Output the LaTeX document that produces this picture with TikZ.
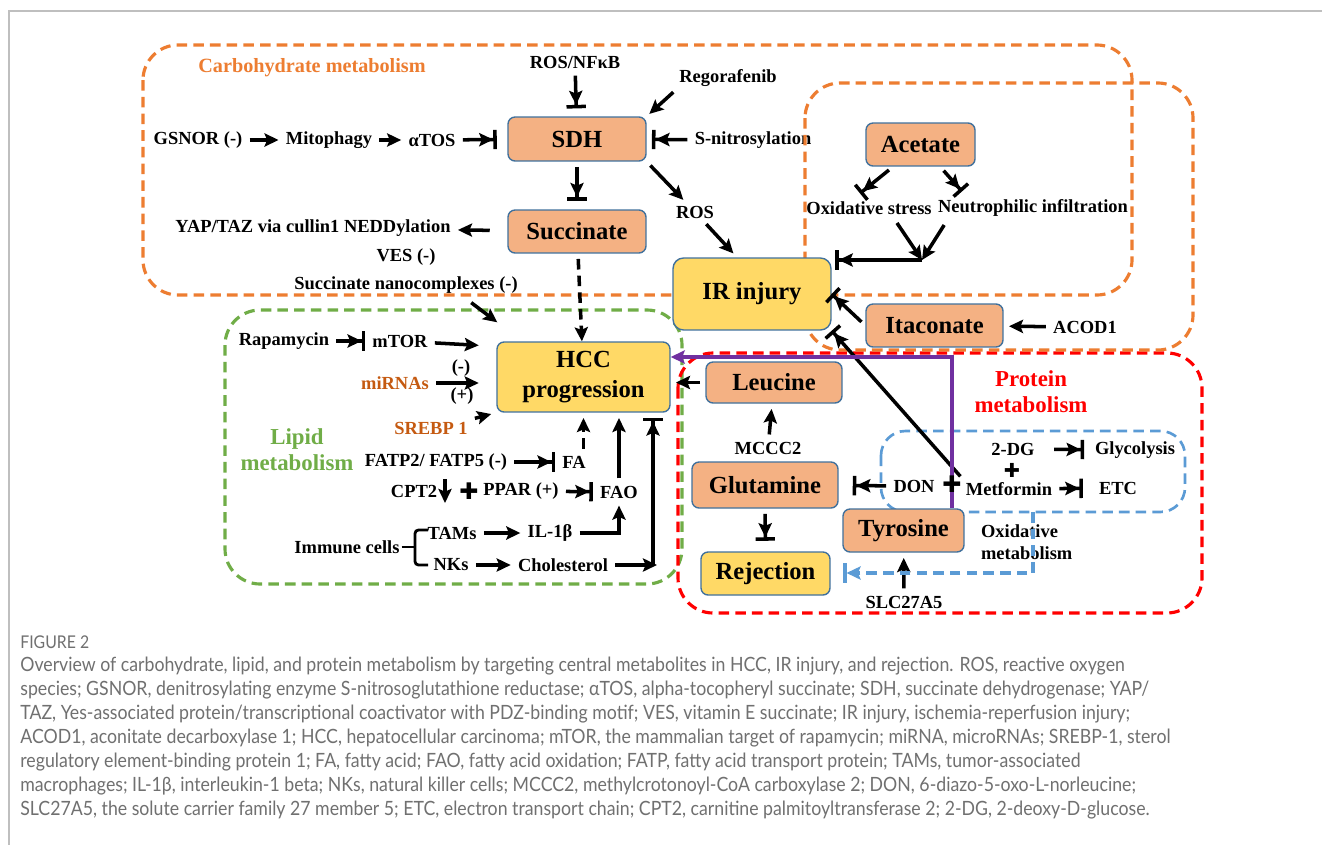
\documentclass[tikz,border=0pt]{standalone}
\usepackage{fontspec}
\setmainfont{Liberation Serif}
\newfontfamily\capfont[FakeStretch=0.9]{Lato}
\newfontfamily\symfont{DejaVu Sans}
\usetikzlibrary{arrows.meta,calc}

\definecolor{boxorange}{HTML}{F4B183}
\definecolor{boxyellow}{HTML}{FFD966}
\definecolor{boxline}{HTML}{41719C}
\definecolor{carbcol}{HTML}{ED7D31}
\definecolor{lipidcol}{HTML}{70AD47}
\definecolor{protcol}{HTML}{FF0000}
\definecolor{bluecol}{HTML}{5B9BD5}
\definecolor{purpcol}{HTML}{7030A0}
\definecolor{mircol}{HTML}{C55A11}
\definecolor{capcol}{HTML}{707070}

\tikzset{
  metab/.style={draw=boxline, fill=boxorange, rounded corners=4pt, line width=0.8pt,
    font=\fontsize{14}{17}\selectfont\bfseries, align=center, inner sep=1pt},
  outcome/.style={metab, fill=boxyellow},
  lbl/.style={font=\fontsize{10.5}{12.5}\selectfont\bfseries, inner sep=1pt, align=center},
  regtitle/.style={font=\fontsize{13}{14.7}\selectfont\bfseries, align=center},
  act/.style={-{Stealth[length=8pt,width=7.5pt,inset=1.5pt]}, line width=2pt, shorten <=3pt, shorten >=3pt},
  inh/.style={-{Stealth[length=8pt,width=7.5pt,inset=1.5pt]Bar[width=11pt,line width=2pt]}, line width=2pt,
    shorten <=3pt, shorten >=3pt},
  dashline/.style={dash pattern=on 6pt off 3.5pt},
  region/.style={dashline, line width=1.8pt, rounded corners=20pt},
  plussign/.style={font=\symfont\fontsize{13}{13}\selectfont, inner sep=0pt},
  captext/.style={font=\capfont\fontsize{11.2}{13.6}\selectfont, text=capcol, anchor=west, inner sep=0pt},
}

\begin{document}
\begin{tikzpicture}[x=0.02cm, y=-0.02cm]
  \path[fill=white] (0,0) rectangle (1322,845) ;
  \useasboundingbox (0,0) rectangle (1322,845) ;
  \draw[black!25, line width=0.6pt] (9,845) -- (9,11) -- (1322,11) ;

  \draw[region, carbcol] (143,45) rectangle (1132,295) ;
  \draw[region, lipidcol] (225,310) rectangle (682,584) ;
  \draw[region, protcol] (678,353) rectangle (1202,613) ;
  \draw[region, bluecol, line width=1.5pt, rounded corners=14pt] (881,431) rectangle (1185,512) ;

  \node[regtitle, text=carbcol, font=\fontsize{11.5}{13}\selectfont\bfseries] at (312,68) (CARB) {Carbohydrate metabolism} ;
  \node[regtitle, text=lipidcol] at (297,450) (LIPID) {Lipid\\metabolism} ;
  \node[regtitle, text=protcol] at (1031,392) (PROT) {Protein\\metabolism} ;

  \node[lbl] at (198,140) (GSNOR) {GSNOR (-)} ;
  \node[lbl] at (329,140) (MITO) {Mitophagy} ;
  \node[lbl] at (432,140) (ATOS) {αTOS} ;
  \node[metab, minimum width=2.76cm, minimum height=0.88cm] at (577,139) (SDH) {SDH} ;
  \node[lbl] at (575,62) (ROSNF) {ROS/NFκB} ;
  \node[lbl] at (728,78) (REGO) {Regorafenib} ;
  \node[lbl] at (753,140) (SNITRO) {S-nitrosylation} ;
  \node[metab, minimum width=2.76cm, minimum height=0.86cm] at (577,231.5) (SUCC) {Succinate} ;
  \node[lbl] at (313,228) (YAP) {YAP/TAZ via cullin1 NEDDylation} ;
  \node[lbl] at (406,257) (VES) {VES (-)} ;
  \node[lbl] at (406,285) (NANO) {Succinate nanocomplexes (-)} ;
  \node[lbl] at (695,212) (ROS) {ROS} ;

  \draw[region, carbcol] (805,83) rectangle (1193,350) ;

  \node[outcome, rounded corners=6pt, minimum width=3.16cm, minimum height=1.44cm] at (752,294) (IR) {IR injury} ;
  \node[metab, minimum width=2.18cm, minimum height=0.86cm] at (920.5,144.5) (ACET) {Acetate} ;
  \node[lbl] at (869,208) (OXS) {Oxidative stress} ;
  \node[lbl] at (1033,208) (NEUT) {Neutrophilic infiltration} ;
  \coordinate (JOIN) at (922,260) ;
  \node[metab, minimum width=2.74cm, minimum height=0.86cm] at (934.5,325.5) (ITA) {Itaconate} ;
  \node[lbl] at (1085,327) (ACOD) {ACOD1} ;

  \node[outcome, minimum width=3.46cm, minimum height=1.4cm] at (583.5,377) (HCC) {HCC\\progression} ;
  \node[lbl] at (284,341) (RAPA) {Rapamycin} ;
  \node[lbl] at (400,341) (MTOR) {mTOR} ;
  \node[lbl] at (395,383) (MIR) {\textcolor{mircol}{miRNAs}} ;
  \node[lbl] at (461,368) (MINUS) {(-)} ;
  \node[lbl] at (462,396) (PLUS) {(+)} ;
  \node[lbl] at (431,428) (SREBP) {\textcolor{mircol}{SREBP 1}} ;
  \node[lbl] at (436,462) (FATP) {FATP2/ FATP5 (-)} ;
  \node[lbl] at (574,462) (FA) {FA} ;
  \node[lbl] at (414,491) (CPT) {CPT2} ;
  \coordinate (CPTa) at (445,479) ;
  \coordinate (CPTb) at (445,503) ;
  \node[plussign] at (469,491) (CROSSA) {✚} ;
  \node[lbl] at (521,491) (PPAR) {PPAR (+)} ;
  \node[lbl] at (619,492) (FAO) {FAO} ;
  \node[lbl] at (347,547) (IMM) {Immune cells} ;
  \node[lbl] at (452,533) (TAMS) {TAMs} ;
  \node[lbl] at (451,565) (NKS) {NKs} ;
  \node[lbl] at (550,533) (IL) {IL-1β} ;
  \node[lbl] at (563,565) (CHOL) {Cholesterol} ;
  \coordinate (CHOLR) at (657,565) ;
  \coordinate (CHOLV) at (653,565) ;

  \node[metab, minimum width=2.72cm, minimum height=0.82cm] at (774,382.5) (LEU) {Leucine} ;
  \node[lbl] at (768,448) (MCCC) {MCCC2} ;
  \node[metab, minimum width=2.92cm, minimum height=0.92cm] at (765,485) (GLN) {Glutamine} ;
  \node[outcome, minimum width=2.58cm, minimum height=0.86cm] at (765.5,573.5) (REJ) {Rejection} ;
  \node[lbl] at (914,486) (DON) {DON} ;
  \node[lbl] at (1009,489) (MET) {Metformin} ;
  \node[lbl] at (1013,449) (DG) {2-DG} ;
  \node[lbl] at (1135,450) (GLY) {Glycolysis} ;
  \node[lbl] at (1118,488) (ETC) {ETC} ;
  \node[metab, minimum width=2.42cm, minimum height=0.86cm] at (903.5,530.5) (TYR) {Tyrosine} ;
  \node[lbl, anchor=west, align=left] at (979,542) (OXM) {Oxidative\\metabolism} ;
  \node[lbl] at (904,602) (SLC) {SLC27A5} ;
  \coordinate (PURP) at (952,357) ;
  \coordinate (BLUEA) at (1033,512) ;
  \coordinate (BLUEB) at (1033,573) ;
  \coordinate (BLUEC) at (843,573) ;

  \draw[act] (GSNOR) -- (MITO) ;
  \draw[act] (MITO) -- (ATOS) ;
  \draw[inh, shorten >=6pt] (ATOS) -- (SDH) ;
  \draw[inh, shorten >=4.5pt] (ROSNF) -- (SDH) ;
  \draw[act, shorten >=2pt] (REGO.south west) -- (SDH.north east) ;
  \draw[inh] (SNITRO) -- (SDH) ;
  \draw[inh, shorten >=5pt] (SDH) -- (SUCC) ;
  \draw[act, shorten <=10pt] (SUCC) -- (YAP) ;
  \draw[act] (SDH.south east) -- (ROS) ;
  \draw[act] (ROS) -- ($(IR.north)+(-15,0)$) ;
  \draw[inh, shorten >=0pt] (ACET) -- ($(OXS.north)+(-9,-6)$) ;
  \draw[inh, shorten >=0pt] (ACET) -- ($(NEUT.north west)+(26,-6)$) ;
  \draw[act, shorten >=0pt] ($(OXS.south)+(25,2)$) -- (JOIN) ;
  \draw[act, shorten >=0pt] ($(NEUT.south west)+(11,2)$) -- (JOIN) ;
  \draw[inh, shorten <=0pt, shorten >=2pt] (JOIN) -- (JOIN -| IR.east) ;
  \draw[act] (ACOD) -- (ITA) ;
  \draw[inh, shorten >=0pt] (ITA.west) -- (IR.east) ;
  \draw[inh, shorten >=0pt] (MET.north west) -- (IR.south east) ;

  \draw[act, shorten >=0pt] ($(NANO.south)+(61,4)$) -- ($(HCC.north west)+(1,-19)$) ;
  \draw[act, dashline, shorten >=0pt] (SUCC) -- (HCC) ;
  \draw[inh] (RAPA) -- (MTOR) ;
  \draw[act, shorten >=10pt] (MTOR) -- ($(HCC.north west)+(0,5)$) ;
  \draw[act, shorten >=10pt] (MIR) -- (HCC.west |- MIR) ;
  \draw[act] (SREBP.north east) -- (HCC.south west) ;
  \draw[inh] (FATP) -- (FA) ;
  \draw[act, dashline] (FA.north -| HCC.south) -- (HCC.south) ;
  \draw[act, shorten <=0pt, shorten >=0pt] (CPTa) -- (CPTb) ;
  \draw[inh] (PPAR) -- (FAO) ;
  \draw[act] (FAO) -- (FAO |- HCC.south) ;
  \draw[line width=1.6pt, rounded corners=2pt] (428,530) -| (415,565) -- (428,565) ;
  \draw[line width=1.6pt] (IMM) -- (415,547) ;
  \draw[act] (TAMS) -- (IL) ;
  \draw[act] (IL) -| (FAO.south) ;
  \draw[act] (NKS) -- (CHOL) ;
  \draw[act, shorten >=0pt] (CHOL) -- (CHOLR) ;
  \draw[inh, shorten <=0pt] (CHOLV) -- (CHOLV |- HCC.south) ;

  \draw[act] (LEU) -- (LEU -| HCC.east) ;
  \draw[act] (MCCC) -- (LEU) ;
  \draw[inh, shorten >=6pt] (GLN) -- (REJ) ;
  \draw[inh, shorten >=8pt] (DON) -- (GLN) ;
  \draw[inh, shorten <=10pt, shorten >=5pt] (DG) -- (GLY) ;
  \draw[inh, shorten >=8pt] (MET) -- (ETC) ;
  \draw[act] (SLC) -- (TYR) ;
  \draw[purpcol, line width=2pt, -{Stealth[length=8pt,width=7.5pt,inset=1.5pt]}] (PURP |- TYR.north) -- (PURP) -- (PURP -| HCC.east) ;
  \draw[bluecol, line width=2pt, dashline, -{Stealth[length=8pt,width=7.5pt,inset=1.5pt]Bar[width=11pt,line width=2pt]}] (BLUEA) -- (BLUEB) -- (BLUEC) ;
  \node[plussign] at (952,484) (CROSSB) {✚} ;
  \node[plussign, font=\symfont\fontsize{11}{11}\selectfont] at (1012,470) (CROSSC) {✚} ;

  \node[captext, font=\capfont\fontsize{10}{12}\selectfont] at (20,642) (FIG) {FIGURE 2} ;
  \node[captext] at (20,666) (CAPA) {Overview of carbohydrate, lipid, and protein metabolism by targeting central metabolites in HCC, IR injury, and rejection. ROS, reactive oxygen} ;
  \node[captext] at (20,690) (CAPB) {species; GSNOR, denitrosylating enzyme S-nitrosoglutathione reductase; αTOS, alpha-tocopheryl succinate; SDH, succinate dehydrogenase; YAP/} ;
  \node[captext] at (20,714) (CAPC) {TAZ, Yes-associated protein/transcriptional coactivator with PDZ-binding motif; VES, vitamin E succinate; IR injury, ischemia-reperfusion injury;} ;
  \node[captext] at (20,738) (CAPD) {ACOD1, aconitate decarboxylase 1; HCC, hepatocellular carcinoma; mTOR, the mammalian target of rapamycin; miRNA, microRNAs; SREBP-1, sterol} ;
  \node[captext] at (20,762) (CAPE) {regulatory element-binding protein 1; FA, fatty acid; FAO, fatty acid oxidation; FATP, fatty acid transport protein; TAMs, tumor-associated} ;
  \node[captext] at (20,786) (CAPF) {macrophages; IL-1β, interleukin-1 beta; NKs, natural killer cells; MCCC2, methylcrotonoyl-CoA carboxylase 2; DON, 6-diazo-5-oxo-L-norleucine;} ;
  \node[captext] at (20,810) (CAPG) {SLC27A5, the solute carrier family 27 member 5; ETC, electron transport chain; CPT2, carnitine palmitoyltransferase 2; 2-DG, 2-deoxy-D-glucose.} ;
\end{tikzpicture}
\end{document}
